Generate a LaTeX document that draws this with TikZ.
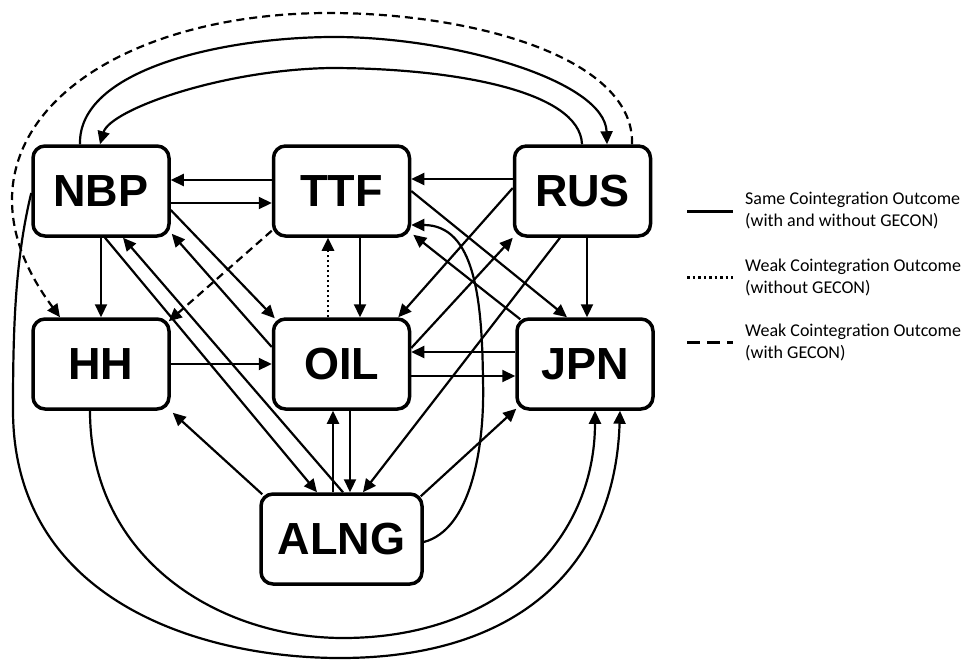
\documentclass[tikz,border=0pt]{standalone}
\usepackage{fontspec}
\setmainfont{Liberation Sans}
\newfontfamily\legendfont{Carlito}
\usetikzlibrary{arrows.meta}
\begin{document}
\begin{tikzpicture}[x={(1pt,0pt)}, y={(0pt,-1pt)},
  market/.style={draw, line width=3.5pt, rounded corners=12pt, minimum width=136pt,
    minimum height=90pt, inner sep=0pt, font=\fontsize{45}{45}\selectfont\bfseries},
  link/.style={line width=2.2pt, -{Triangle[length=13pt,width=12pt]}},
  weakgecon/.style={link, dash pattern=on 8pt off 5pt},
  weaknogecon/.style={link, line width=2.6pt, dash pattern=on 2.5pt off 2.5pt},
  legendtext/.style={anchor=west, inner sep=0pt, align=left,
    font=\legendfont\fontsize{18}{22}\selectfont},
]
\useasboundingbox (0,0) rectangle (966,662);

% markets
\node[market] (NBP)  at (101,191)   {NBP};
\node[market] (TTF)  at (341.5,191) {TTF};
\node[market] (RUS)  at (582.5,191) {RUS};
\node[market] (HH)   at (101,364)   {HH};
\node[market] (OIL)  at (341.5,364) {OIL};
\node[market] (JPN)  at (585,364)   {JPN};
\node[market, minimum width=161pt] (ALNG) at (341.5,539) {ALNG};

% horizontal links
\draw[link] ([yshift=11pt]TTF.west) -- ([yshift=11pt]NBP.east);
\draw[link] ([yshift=-12pt]NBP.east) -- ([yshift=-12pt]TTF.west);
\draw[link] ([yshift=12pt]RUS.west) -- ([yshift=12pt]TTF.east);
\draw[link] (HH.east) -- (OIL.west);
\draw[link] ([yshift=12pt]JPN.west) -- ([yshift=12pt]OIL.east);
\draw[link] ([yshift=-12pt]OIL.east) -- ([yshift=-12pt]JPN.west);

% vertical links
\draw[link] (NBP.south) -- (HH.north);
\draw[link] ([xshift=18.5pt]TTF.south) -- ([xshift=18.5pt]OIL.north);
\draw[weaknogecon] ([xshift=-13.5pt]OIL.north) -- ([xshift=-13.5pt]TTF.south);
\draw[link] ([xshift=4.5pt]RUS.south) -- ([xshift=2pt]JPN.north);
\draw[link] ([xshift=-8.5pt]ALNG.north) -- ([xshift=-8.5pt]OIL.south);
\draw[link] ([xshift=8.5pt]OIL.south) -- ([xshift=8.5pt]ALNG.north);

% diagonal links
\draw[link] ([xshift=4pt]NBP.south) -- ([xshift=-24.5pt]ALNG.north);
\draw[link] ([xshift=1.5pt]ALNG.north) -- ([xshift=22pt]NBP.south);
\draw[link] ([yshift=-19pt]NBP.east) -- ([shift={(3pt,-1pt)}]OIL.north west);
\draw[link] ([yshift=17pt]OIL.west) -- ([shift={(1pt,4pt)}]NBP.south east);
\draw[weakgecon] ([yshift=7pt]TTF.south west) -- ([shift={(-2pt,-4pt)}]HH.north east);
\draw[link] ([yshift=3pt]RUS.west) -- ([xshift=-13pt]OIL.north east);
\draw[link] ([yshift=16pt]OIL.east) -- (RUS.south west);
\draw[link] ([xshift=-22.5pt]RUS.south) -- ([xshift=21.5pt]ALNG.north);
\draw[link] (TTF.east) -- ([xshift=-18pt]JPN.north);
\draw[link] ([shift={(5pt,-2pt)}]JPN.north west) -- ([shift={(2pt,3pt)}]TTF.south east);
\draw[link] ([shift={(3pt,-2pt)}]ALNG.north west) -- ([shift={(2pt,-2pt)}]HH.south east);
\draw[link] ([shift={(-3pt,-4pt)}]ALNG.north east) -- ([shift={(1pt,2pt)}]JPN.south west);

% curved links
\draw[link] ([yshift=-3pt]ALNG.east) .. controls (470,530) and (485,450) .. (483,380)
  .. controls (482,300) and (475,225) .. ([yshift=-34pt]TTF.east);
\draw[link] ([xshift=-11pt]HH.south) .. controls (90,560) and (220,638) .. (343,638)
  .. controls (500,638) and (595,540) .. ([xshift=10pt]JPN.south);
\draw[link] ([yshift=-2pt]NBP.west) .. controls (15,260) and (13,330) .. (13,410)
  .. controls (13,600) and (200,658) .. (340,658)
  .. controls (520,658) and (615,565) .. ([xshift=35pt]JPN.south);
\draw[link] ([xshift=-21pt]NBP.north) .. controls (78,70) and (220,38) .. (330,37)
  .. controls (450,36) and (605,80) .. ([xshift=24.5pt]RUS.north);
\draw[link] ([xshift=-0.5pt]RUS.north) .. controls (580,90) and (450,68) .. (330,68)
  .. controls (220,70) and (110,110) .. ([xshift=-1pt]NBP.north);
\draw[weakgecon] ([xshift=49.5pt]RUS.north) .. controls (635,60) and (480,14) .. (333,13)
  .. controls (150,12) and (12,90) .. (12,200)
  .. controls (12,250) and (40,290) .. ([xshift=-41pt]HH.north);

% legend
\coordinate (solidA) at (687,211);  \coordinate (solidB) at (733,211);
\coordinate (dotA)   at (687,277);  \coordinate (dotB)   at (733,277);
\coordinate (dashA)  at (687,342);  \coordinate (dashB)  at (733,342);
\draw[line width=3pt] (solidA) -- (solidB);
\draw[line width=3pt, dash pattern=on 2.5pt off 3pt] (dotA) -- (dotB);
\draw[line width=3pt, dash pattern=on 13pt off 7pt] (dashA) -- (dashB);
\node[legendtext] (legSame) at (745,211) {Same Cointegration Outcome\\(with and without GECON)};
\node[legendtext] (legWeakA) at (745,277) {Weak Cointegration Outcome\\(without GECON)};
\node[legendtext] (legWeakB) at (745,342) {Weak Cointegration Outcome\\(with GECON)};
\end{tikzpicture}
\end{document}
